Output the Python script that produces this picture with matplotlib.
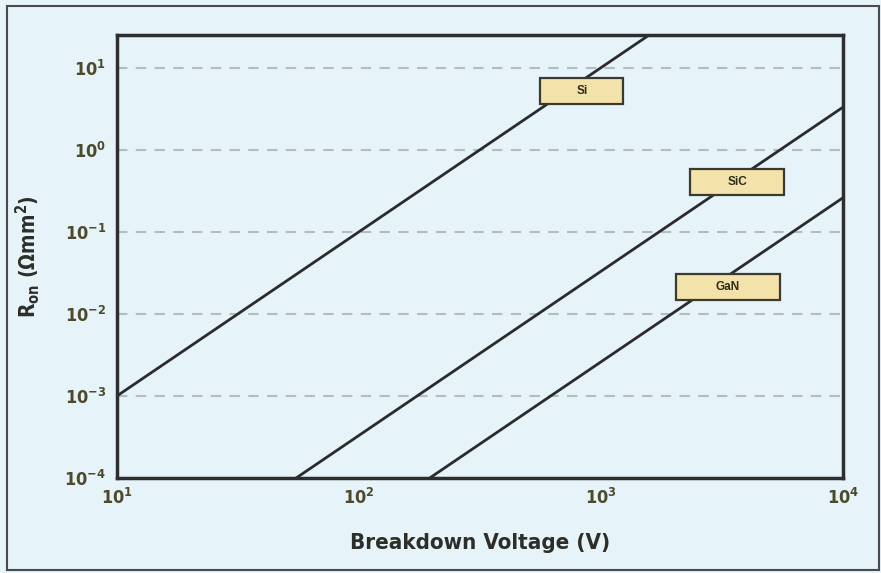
import matplotlib
matplotlib.use("Agg")
import matplotlib.pyplot as plt
from matplotlib.patches import Rectangle
from matplotlib.ticker import FixedLocator, FixedFormatter

# Specific on-resistance limit lines (R_on ∝ V^2) for each material
materials = ["Si", "SiC", "GaN"]
voltage_si = [10, 1600]
ron_si = [1e-3, 25.6]
voltage_sic = [55, 10000]
ron_sic = [1e-4, 3.3]
voltage_gan = [196, 10000]
ron_gan = [1e-4, 0.26]

# Label box centres (V, R_on)
label_v = [834, 3650, 3350]
label_r = [5.2, 0.40, 0.0214]

x_ticks = [1e1, 1e2, 1e3, 1e4]
x_labels = ["10$^{1}$", "10$^{2}$", "10$^{3}$", "10$^{4}$"]
y_ticks = [1e-4, 1e-3, 1e-2, 1e-1, 1e0, 1e1]
y_labels = ["10$^{-4}$", "10$^{-3}$", "10$^{-2}$", "10$^{-1}$", "10$^{0}$", "10$^{1}$"]

bg = "#e6f3f9"
plt.rcParams["font.family"] = ["DejaVu Sans"]
plt.rcParams["font.stretch"] = "condensed"
plt.rcParams["mathtext.default"] = "regular"

fig = plt.figure(figsize=(8.81, 5.73), dpi=100, facecolor=bg)
ax = fig.add_axes([117 / 881, 1 - 478 / 573, (843 - 117) / 881, (478 - 35) / 573])
ax.set_facecolor(bg)
ax.set_xscale("log")
ax.set_yscale("log")
ax.set_xlim(10, 1e4)
ax.set_ylim(1e-4, 25)

for y in y_ticks[1:]:
    ax.axhline(y, color="#b3bcc0", lw=1.5, ls=(0, (5, 4)), zorder=1)

for v, r in [(voltage_si, ron_si), (voltage_sic, ron_sic), (voltage_gan, ron_gan)]:
    ax.plot(v, r, color="#2b2b2b", lw=2.0, zorder=2)

# Label boxes with fixed pixel sizes, text on top
box_w = [83, 94, 104]
box_h = 26
for name, v, r, w in zip(materials, label_v, label_r, box_w):
    px, py = ax.transData.transform((v, r))
    fx, fy = px / fig.bbox.width, py / fig.bbox.height
    rect = Rectangle((fx - w / 2 / 881, fy - box_h / 2 / 573), w / 881, box_h / 573,
                     transform=fig.transFigure, fc="#f3e2a9", ec="#3a3a30", lw=1.6, zorder=5)
    fig.add_artist(rect)
    fig.text(fx, fy, name, ha="center", va="center", fontsize=8.5, fontweight="bold",
             family="Liberation Sans", fontstretch="normal", color="#2e2a1c", zorder=6)

ax.xaxis.set_major_locator(FixedLocator(x_ticks))
ax.xaxis.set_major_formatter(FixedFormatter(x_labels))
ax.yaxis.set_major_locator(FixedLocator(y_ticks))
ax.yaxis.set_major_formatter(FixedFormatter(y_labels))
ax.minorticks_off()
ax.tick_params(axis="both", length=0, labelsize=13, labelcolor="#4d4a2c")
ax.tick_params(axis="x", pad=7)
ax.tick_params(axis="y", pad=8)
for lbl in ax.get_xticklabels() + ax.get_yticklabels():
    lbl.set_fontweight("bold")

for s in ax.spines.values():
    s.set_linewidth(2.5)
    s.set_color("#2e2e2e")
    s.set_zorder(6)

ax.set_xlabel("Breakdown Voltage (V)", fontsize=16, fontweight="bold", color="#2e2e28", labelpad=18)
ax.set_ylabel("R$_{on}$ (Ωmm$^{2}$)", fontsize=15, fontweight="bold", color="#2e2e28", labelpad=16)

fig.add_artist(Rectangle((7 / 881, 3 / 573), 872 / 881, 564 / 573, transform=fig.transFigure,
                         fill=False, ec="#4a4a4a", lw=1.5))

fig.savefig("out.png", dpi=100, facecolor=bg)
